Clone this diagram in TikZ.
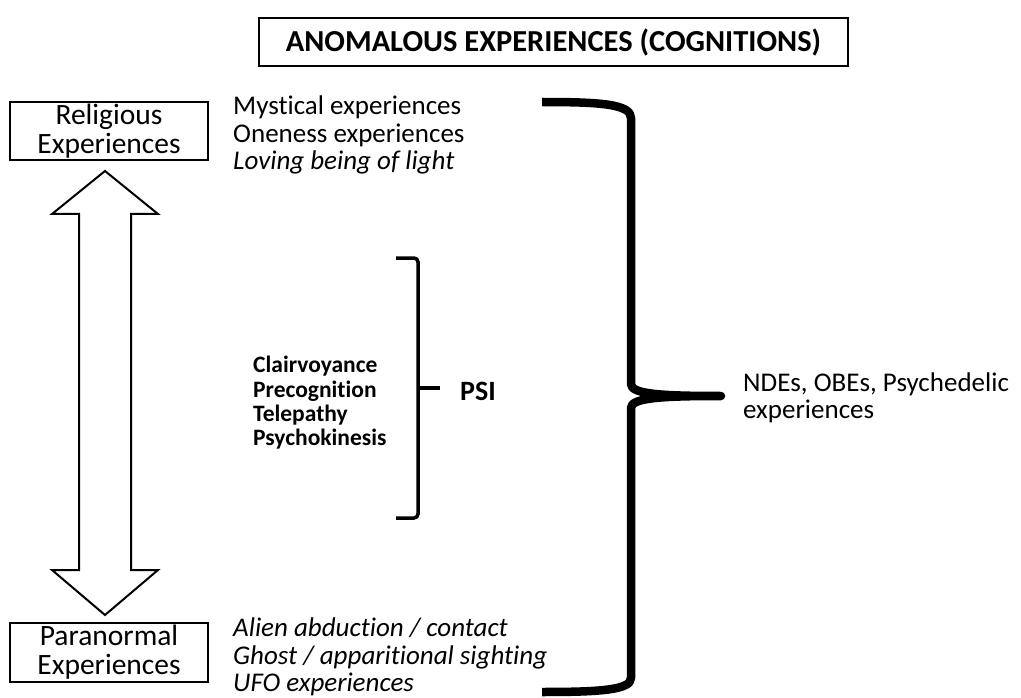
\documentclass[tikz,border=0pt]{standalone}
\usepackage{fontspec}
\setmainfont{Carlito}[Ligatures=NoCommon]
\begin{document}
\begin{tikzpicture}[x=1pt,y=-1pt,
  box/.style={draw, line width=2.2pt, minimum width=198pt, minimum height=58pt, inner sep=0pt, align=center, font=\fontsize{29.5}{29}\selectfont},
  txt/.style={anchor=west, inner sep=0pt, align=left, font=\fontsize{27}{27.5}\selectfont},
  bold/.style={anchor=west, inner sep=0pt, align=left, font=\bfseries\fontsize{23.5}{24.3}\selectfont},
  bigbrace/.style={line width=8.5pt, line join=round},
  smallbrace/.style={line width=3.5pt, rounded corners=4pt},
  dblarrow/.style={draw, line width=2pt, fill=white, line join=miter}]
\useasboundingbox (0,0) rectangle (1021,698);

\node[draw, line width=2.2pt, minimum width=589pt, minimum height=48pt, inner sep=0pt,
      font=\bfseries\fontsize{30.5}{30}\selectfont] (title) at (553.5,42) {ANOMALOUS EXPERIENCES (COGNITIONS)};

\node[box] (rel) at (109,131) {Religious\\Experiences};
\node[box, minimum height=59pt] (par) at (109,652.5) {Paranormal\\Experiences};

\node[txt] (reltxt) at (233,135) {Mystical experiences\\Oneness experiences\\\textit{Loving being of light}};
\node[txt] (partxt) at (233,657) {\textit{Alien abduction / contact}\\\textit{Ghost / apparitional sighting}\\\textit{UFO experiences}};

\draw[dblarrow] (105,171) -- (158,214) -- (131,214) -- (131,570) -- (158,570) -- (105,615)
   -- (52,570) -- (79,570) -- (79,214) -- (52,214) -- cycle;

\node[bold] (psilist) at (253,403) {Clairvoyance\\Precognition\\Telepathy\\Psychokinesis};
\node[anchor=west, inner sep=0pt, font=\bfseries\fontsize{28}{28}\selectfont] (psi) at (460,391) {PSI};

\draw[smallbrace] (396,258) -- (418,258) -- (418,518) -- (396,518);
\draw[line width=3.5pt] (418,388) -- (440,388);

\draw[bigbrace] (542,102) .. controls (600,102) and (631,104) .. (631,118) -- (631,384)
   .. controls (631,394) and (660,396) .. (721,396)
   .. controls (660,396) and (631,398) .. (631,408) -- (631,678)
   .. controls (631,690) and (600,692) .. (542,692);

\node[txt] (nde) at (743,398) {NDEs, OBEs, Psychedelic\\experiences};
\end{tikzpicture}
\end{document}
